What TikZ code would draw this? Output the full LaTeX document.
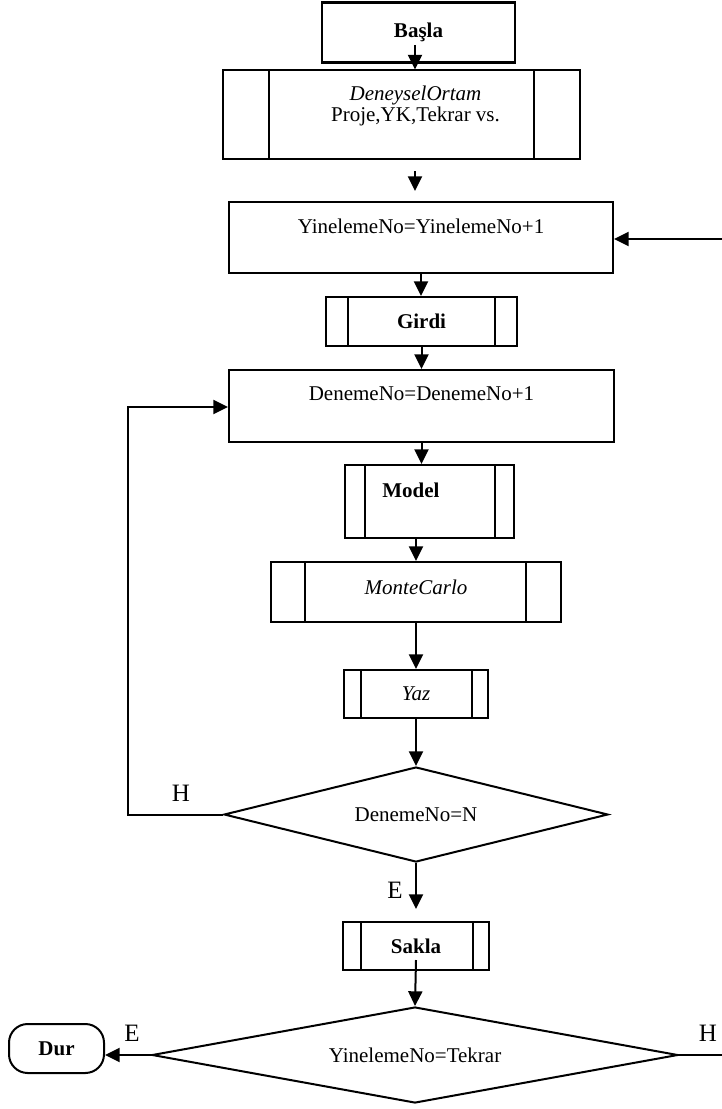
\documentclass[tikz,border=0pt]{standalone}
\usepackage{fontspec}
\setmainfont{Liberation Serif}
\usetikzlibrary{shapes.geometric,arrows.meta,calc}
\newcommand{\fs}{\fontsize{15.75}{18}\selectfont}
\newcommand{\innerlines}[3]{%
  \draw[ln] ($(#1.north west)+(#2,0)$) -- ($(#1.south west)+(#2,0)$);
  \draw[ln] ($(#1.north east)+(-#3,0)$) -- ($(#1.south east)+(-#3,0)$);}
\begin{document}
\begin{tikzpicture}[x=0.75pt,y=-0.75pt,
  ln/.style={line width=1.5pt},
  box/.style={draw, line width=1.5pt, inner sep=0pt, font=\fs},
  sz/.style 2 args={minimum width=#1*0.75pt, minimum height=#2*0.75pt},
  arr/.style={line width=1.5pt, -{Triangle[length=11pt,width=10.5pt]}},
  lab/.style={font=\fs, inner sep=0pt},
  yn/.style={font=\fontsize{18.75}{22}\selectfont, inner sep=0pt},
  dia/.style={draw, diamond, line width=1.5pt, inner sep=0pt, font=\fs},
]
\useasboundingbox (0,0) rectangle (721,1109);

% boxes
\node[box, sz={193}{60}, line width=2pt, font=\fs\bfseries] (basla) at (418.5,32.5) {Başla};

\node[box, sz={357}{89},
  label={[lab, font=\fontsize{15.75}{13.8}\selectfont, align=center, yshift=6.75pt, xshift=10.5pt]center:{\textit{DeneyselOrtam}\\Proje,YK,Tekrar vs.}}]
  (deney) at (401.5,115) {};
\innerlines{deney}{47}{47}

\node[box, sz={384}{71},
  label={[lab, yshift=8.6pt]center:{YinelemeNo=YinelemeNo+1}}]
  (yin) at (421,237.5) {};

\node[box, sz={191}{49}, font=\fs\bfseries] (gir) at (421.5,321.5) {Girdi};
\innerlines{gir}{23}{23}

\node[box, sz={385}{72},
  label={[lab, yshift=9pt]center:{DenemeNo=DenemeNo+1}}]
  (den) at (421.5,406) {};

\node[box, sz={169}{73},
  label={[lab, font=\fs\bfseries, yshift=8.6pt, xshift=-14pt]center:{Model}}]
  (mod) at (429.5,501.5) {};
\innerlines{mod}{21}{20}

\node[box, sz={290}{60},
  label={[lab, yshift=3.75pt]center:{\textit{MonteCarlo}}}]
  (mon) at (416,592) {};
\innerlines{mon}{35}{36}

\node[box, sz={144}{48}] (yaz) at (416,694) {\textit{Yaz}};
\innerlines{yaz}{18}{17}

\node[dia, aspect=4, sz={384}{95}] (d1) at (416,814.5) {DenemeNo=N};

\node[box, sz={146}{48}, font=\fs\bfseries] (sak) at (416,946) {Sakla};
\innerlines{sak}{19}{17}

\node[dia, aspect=5.5, sz={526}{96}] (d2) at (415,1055) {YinelemeNo=Tekrar};

\node[draw, line width=1.5pt, rounded corners=14pt, inner sep=0pt, sz={95}{49}, font=\fs\bfseries] (dur) at (56.5,1048.5) {Dur};

% labels
\node[yn] (h1) at (181,793) {H};
\node[yn] (e1) at (395,890) {E};
\node[yn] (e2) at (132,1033) {E};
\node[yn] (h2) at (708,1033) {H};

% connectors
\coordinate (a1) at ($(basla.south)+(-3.5,-19)$);
\draw[arr] (a1) -- (a1 |- deney.north);
\draw[arr, shorten <=8pt, shorten >=7.5pt] (deney.south -| a1) -- (a1 |- yin.north);
\draw[arr] (yin.south) -- (yin.south |- gir.north);
\draw[arr] (gir.south) -- (gir.south |- den.north);
\draw[arr] (den.south) -- (den.south |- mod.north);
\draw[arr] (mon.north |- mod.south) -- (mon.north);
\draw[arr] (mon.south) -- (yaz.north);
\draw[arr] (yaz.south) -- (d1.north);
\draw[arr, shorten >=9pt] (d1.south) -- (sak.north);
\draw[arr] ($(sak.south)+(0,-11)$) -- (d2.north);
\draw[arr] (d2.west) -- (d2.west -| dur.east);

\coordinate (lp) at (128,407);
\draw[arr] (d1.west) -- (d1.west -| lp) -- (lp) -- (den.west |- lp);
\coordinate (rp) at (723.5,239);
\draw[arr] (d2.east) -- (d2.east -| rp) -- (rp) -- (yin.east |- rp);
\end{tikzpicture}
\end{document}
